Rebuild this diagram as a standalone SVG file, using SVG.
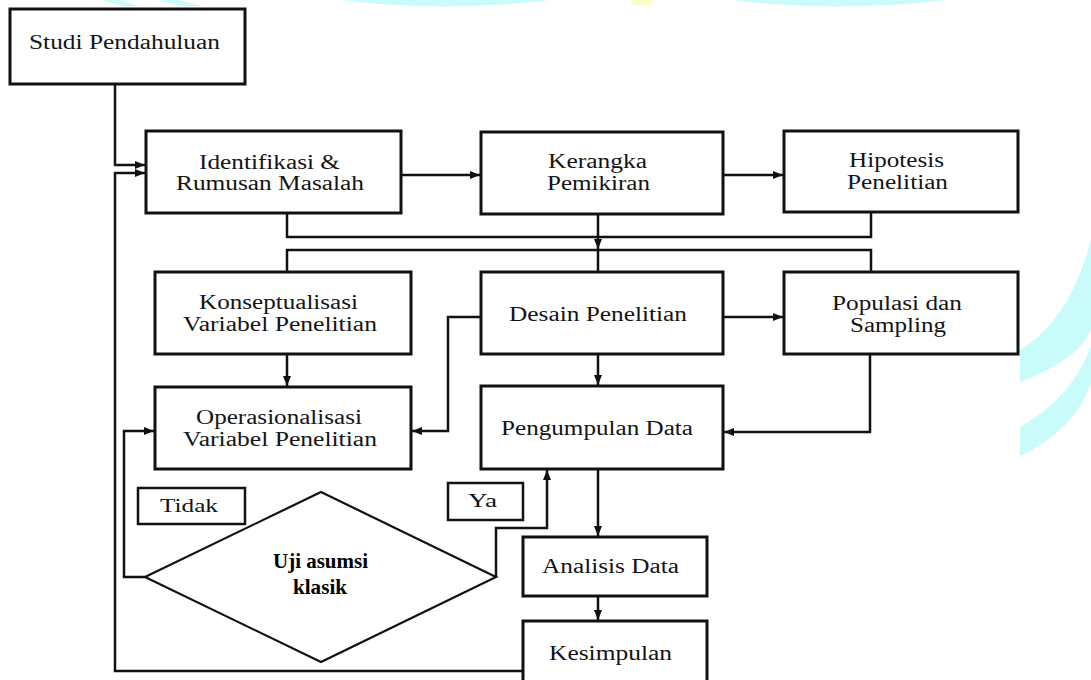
<svg xmlns="http://www.w3.org/2000/svg" width="1091" height="680" viewBox="0 0 1091 680">
  <defs>
    <marker id="arr" markerUnits="userSpaceOnUse" markerWidth="10" markerHeight="8" refX="10" refY="4" orient="auto">
      <path d="M0,0 L10,4 L0,8 Z" fill="#111"/>
    </marker>
    <style>
      .box { fill: #fff; stroke: #111; stroke-width: 3; }
      .lbl { fill: #fff; stroke: #111; stroke-width: 2.5; }
      .dia { fill: #fff; stroke: #111; stroke-width: 2.2; }
      .t { font-family: "Liberation Serif", "Times New Roman", serif; font-size: 20px; fill: #141414; text-anchor: middle; }
      .ts { font-family: "Liberation Serif", "Times New Roman", serif; font-size: 19px; fill: #141414; text-anchor: middle; }
      .tb { font-family: "Liberation Serif", "Times New Roman", serif; font-size: 21px; font-weight: bold; fill: #000; text-anchor: middle; }
      .c { fill: none; stroke: #111; stroke-width: 2.5; }
      .ca { fill: none; stroke: #111; stroke-width: 2.5; marker-end: url(#arr); }
      .wm { fill: #c9fbfb; }
    </style>
  </defs>

  <rect width="1091" height="680" fill="#fff"/>

  <g id="watermark">
    <path class="wm" d="M101,0 H120 L139,6 H124 Z"/>
    <path class="wm" d="M157,0 H178 L202,6 H183 Z"/>
    <path class="wm" d="M341,0 Q445,13 550,0 Z"/>
    <path class="wm" d="M731,0 Q838,13 946,0 Z"/>
    <rect x="632" y="0" width="20" height="5" fill="#fdfcc8"/>
    <path class="wm" d="M1091,240 Q1070,320 1020,350 L1020,382 Q1078,360 1091,330 Z"/>
    <path class="wm" d="M1091,347 Q1070,400 1020,427 L1020,456 Q1075,430 1091,383 Z"/>
  </g>

  <g id="connectors">
    <path class="ca" d="M115,84 V165 H145"/>
    <path class="ca" d="M523,671 H115 V173 H145"/>
    <path class="ca" d="M401,175 H480"/>
    <path class="ca" d="M723,175 H783"/>
    <path class="c" d="M287,213 V237 H871 V212"/>
    <path class="ca" d="M598,214 V249"/>
    <path class="c" d="M287,272 V250 H871 V272"/>
    <path class="c" d="M598,250 V272"/>
    <path class="ca" d="M287,354 V386"/>
    <path class="ca" d="M481,317 H448 V431 H412"/>
    <path class="ca" d="M723,317 H783"/>
    <path class="ca" d="M598,354 V385"/>
    <path class="ca" d="M870,354 V432 H724"/>
    <path class="ca" d="M598,469 V536"/>
    <path class="ca" d="M598,596 V620"/>
    <path class="ca" d="M145,577 H124 V431 H154"/>
    <path class="ca" d="M496,577 V528 H547 V470"/>
  </g>

  <g id="studi">
    <rect class="box" x="10" y="9" width="235" height="75"/>
    <text class="t" x="124.5" y="49" textLength="191" lengthAdjust="spacingAndGlyphs">Studi Pendahuluan</text>
  </g>
  <g id="identifikasi">
    <rect class="box" x="146" y="131" width="255" height="82"/>
    <text class="t" x="269.5" y="169" textLength="141" lengthAdjust="spacingAndGlyphs">Identifikasi &amp;</text>
    <text class="t" x="270" y="190" textLength="188" lengthAdjust="spacingAndGlyphs">Rumusan Masalah</text>
  </g>
  <g id="kerangka">
    <rect class="box" x="481" y="132" width="242" height="82"/>
    <text class="t" x="597.5" y="168" textLength="99" lengthAdjust="spacingAndGlyphs">Kerangka</text>
    <text class="t" x="598.5" y="190" textLength="103" lengthAdjust="spacingAndGlyphs">Pemikiran</text>
  </g>
  <g id="hipotesis">
    <rect class="box" x="784" y="131" width="234" height="81"/>
    <text class="t" x="896.5" y="167" textLength="95" lengthAdjust="spacingAndGlyphs">Hipotesis</text>
    <text class="t" x="897.5" y="189" textLength="101" lengthAdjust="spacingAndGlyphs">Penelitian</text>
  </g>
  <g id="konseptualisasi">
    <rect class="box" x="155" y="272" width="256" height="82"/>
    <text class="t" x="278.5" y="309" textLength="159" lengthAdjust="spacingAndGlyphs">Konseptualisasi</text>
    <text class="t" x="280" y="331" textLength="194" lengthAdjust="spacingAndGlyphs">Variabel Penelitian</text>
  </g>
  <g id="desain">
    <rect class="box" x="481" y="272" width="242" height="82"/>
    <text class="t" x="598" y="321" textLength="178" lengthAdjust="spacingAndGlyphs">Desain Penelitian</text>
  </g>
  <g id="populasi">
    <rect class="box" x="784" y="272" width="234" height="82"/>
    <text class="t" x="897" y="310" textLength="130" lengthAdjust="spacingAndGlyphs">Populasi dan</text>
    <text class="t" x="898" y="332" textLength="96" lengthAdjust="spacingAndGlyphs">Sampling</text>
  </g>
  <g id="operasionalisasi">
    <rect class="box" x="155" y="387" width="256" height="82"/>
    <text class="t" x="279" y="424" textLength="166" lengthAdjust="spacingAndGlyphs">Operasionalisasi</text>
    <text class="t" x="280" y="446" textLength="194" lengthAdjust="spacingAndGlyphs">Variabel Penelitian</text>
  </g>
  <g id="pengumpulan">
    <rect class="box" x="481" y="386" width="242" height="83"/>
    <text class="t" x="597" y="435" textLength="192" lengthAdjust="spacingAndGlyphs">Pengumpulan Data</text>
  </g>
  <g id="analisis">
    <rect class="box" x="523" y="537" width="184" height="59"/>
    <text class="t" x="610.5" y="573" textLength="137" lengthAdjust="spacingAndGlyphs">Analisis Data</text>
  </g>
  <g id="kesimpulan">
    <rect class="box" x="523" y="621" width="184" height="75"/>
    <text class="t" x="610.5" y="660" textLength="123" lengthAdjust="spacingAndGlyphs">Kesimpulan</text>
  </g>
  <g id="uji">
    <polygon class="dia" points="321,492 496,577 321,662 145,577"/>
    <text class="tb" x="320.5" y="568" textLength="95" lengthAdjust="spacingAndGlyphs">Uji asumsi</text>
    <text class="tb" x="320" y="594" textLength="54" lengthAdjust="spacingAndGlyphs">klasik</text>
  </g>
  <g id="tidak">
    <rect class="lbl" x="138" y="488" width="107" height="36"/>
    <text class="ts" x="189" y="512" textLength="58" lengthAdjust="spacingAndGlyphs">Tidak</text>
  </g>
  <g id="ya">
    <rect class="lbl" x="448" y="483" width="75" height="37"/>
    <text class="ts" x="482.5" y="507" textLength="29" lengthAdjust="spacingAndGlyphs">Ya</text>
  </g>
</svg>
